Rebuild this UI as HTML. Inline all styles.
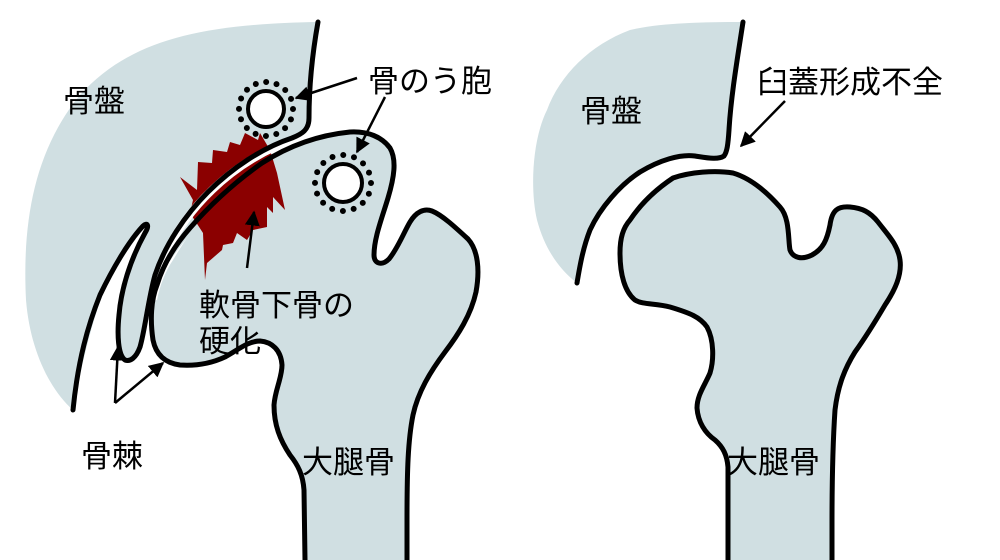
<!DOCTYPE html>
<html><head><meta charset="utf-8"><style>
html,body{margin:0;padding:0;background:#fff;}
svg{display:block}
text{font-family:"Liberation Sans","Noto Sans CJK JP",sans-serif;font-size:31px;fill:#000}
</style></head><body>
<svg width="1000" height="560" viewBox="0 0 1000 560" xmlns="http://www.w3.org/2000/svg">
<defs>
<marker id="ah" viewBox="0 0 10 10" refX="9" refY="5" markerWidth="6" markerHeight="6" orient="auto">
<path d="M0,0 L10,5 L0,10 z" fill="#000"/></marker>
</defs>
<!-- LEFT pelvis fill -->
<path d="M318,22 C315,50 309,80 309,118 C309,130 302,134 292,138 C260,150 225,175 200,223 C180,245 165,265 150,297 C145,320 140,345 133,357 C130,362 122,362 118,337 C118,310 125,270 147,228 C142,222 130,240 120,257 C105,280 88,330 73,410 C50,390 30,350 26,300 C22,220 35,150 80,95 C130,40 200,24 318,22 Z" fill="#d0dfe2"/>
<!-- LEFT femur fill -->
<path d="M305,560 L303,473 C298,465 285,445 278,425 C272,405 275,390 280,377 C284,360 282,350 273,345 C262,337 250,342 240,347 C225,355 210,365 193,365 C175,364 160,358 154,340 C150,320 152,300 157,300 C160,285 165,272 173,260 C185,240 195,225 213,207 C230,190 245,175 267,160 C285,148 300,140 317,137 C330,133 345,131 357,132 C372,134 380,138 388,145 C395,152 396,162 393,175 C389,195 382,215 377,227 C372,240 370,258 375,263 C380,266 385,264 390,258 C398,248 404,232 410,220 C415,212 422,209 430,210 C440,212 447,218 455,225 C465,232 473,240 477,255 C480,270 477,285 470,310 C462,330 452,345 440,360 C428,378 418,395 412,420 C408,440 407,470 407,523 L407,560 Z" fill="#d0dfe2"/>
<!-- red sclerosis -->
<polygon points="180,177 197,190 198,162 212,163 213,150 227,152 230,142 240,145 245,133 258,140 260,133 270,150 277,173 285,210 273,197 273,213 267,207 267,227 253,230 247,240 237,233 233,243 223,245 222,250 207,263 205,280 203,233 190,213 193,200" fill="#8b0000"/>
<!-- white gap -->
<path d="M300,137 C270,147 240,163 212,190 C189,212 169,240 157,275 C151,295 147,320 145,335" fill="none" stroke="#fff" stroke-width="8"/>
<!-- strokes left -->
<g fill="none" stroke="#000" stroke-width="5" stroke-linecap="round" stroke-linejoin="round">
<path d="M318,22 C313,50 309,80 309,118 C309,130 302,134 292,138 C262,148 232,168 208,192 C185,215 165,245 155,275 C148,300 145,330 140,347 C136,358 130,362 125,360 C118,355 117,335 119,315 C121,290 130,260 145,233 C150,225 147,222 143,226 C128,242 112,270 100,295 C88,325 78,360 73,410"/>
<path d="M305,560 L304,490 C303,475 298,465 290,455 C280,440 274,425 274,405 C275,390 282,378 282,365 C281,350 272,342 260,341 C248,341 238,350 225,357 C210,364 195,366 180,365 C165,363 156,355 153,340 C150,320 151,300 157,285 C163,265 175,245 190,228 C210,205 235,182 262,163 C290,145 320,135 350,132 C368,131 382,137 390,148 C397,160 394,178 388,198 C382,218 374,238 374,255 C374,264 382,266 389,259 C398,248 404,232 410,222 C416,212 424,208 432,211 C442,215 455,227 468,239 C478,250 480,270 476,292 C471,315 458,335 445,352 C430,372 418,392 413,415 C408,440 407,470 407,520 L407,560"/>
</g>
<!-- cysts -->
<circle cx="266" cy="109" r="27" fill="none" stroke="#000" stroke-width="6" stroke-dasharray="0 10.6" stroke-linecap="round"/>
<circle cx="266" cy="109" r="18" fill="#fff" stroke="#000" stroke-width="4"/>
<circle cx="343" cy="183" r="28" fill="none" stroke="#000" stroke-width="6" stroke-dasharray="0 11" stroke-linecap="round"/>
<circle cx="343" cy="183" r="19" fill="#fff" stroke="#000" stroke-width="4"/>
<!-- arrows left -->
<g stroke="#000" stroke-width="2.5" fill="none" marker-end="url(#ah)">
<line x1="357" y1="78" x2="296" y2="98"/>
<line x1="385" y1="97" x2="357" y2="152"/>
<line x1="247" y1="268" x2="254" y2="212"/>
<line x1="115" y1="403" x2="118" y2="347"/>
<line x1="115" y1="403" x2="163" y2="363"/>
</g>
<text x="63" y="112">骨盤</text>
<text x="368" y="92">骨のう胞</text>
<text x="199" y="316">軟骨下骨の</text>
<text x="199" y="352">硬化</text>
<text x="81" y="467">骨棘</text>
<text x="302" y="473">大腿骨</text>

<!-- RIGHT pelvis -->
<path d="M743,22 L730,100 L727,147 C726,157 722,158 712,158 C700,158 690,154 670,157 C650,162 628,180 610,200 C598,215 587,233 577,283 C560,270 545,250 537,220 C530,190 532,140 547,110 C560,75 590,45 630,30 C660,23 700,22 743,22 Z" fill="#d0dfe2"/>
<path d="M743,22 C738,55 731,95 729,130 C728,145 727,152 724,156 C718,160 708,158 695,156 C680,154 660,160 640,172 C620,185 600,208 590,230 C583,248 580,265 577,283" fill="none" stroke="#000" stroke-width="5" stroke-linecap="round"/>
<path d="M728,560 L728,467 C727,455 723,447 715,440 C705,433 698,422 697,408 C697,395 705,385 710,373 C714,360 714,340 707,327 C700,317 690,313 670,307 C655,303 643,305 635,300 C625,292 620,275 620,253 C620,238 623,228 630,220 C640,205 655,190 673,178 C690,172 715,170 733,173 C750,178 765,190 780,207 C790,218 788,240 790,250 C793,258 802,260 812,255 C823,249 827,240 830,225 C832,210 838,206 850,207 C862,208 870,212 878,222 C888,235 898,245 900,260 C902,275 895,290 885,305 C875,322 865,338 855,352 C845,368 838,385 835,410 C833,440 832,480 832,523 L832,560 Z" fill="#d0dfe2"/>
<path d="M728,560 L728,467 C727,455 723,447 715,440 C705,433 698,422 697,408 C697,395 705,385 710,373 C714,360 714,340 707,327 C700,317 690,313 670,307 C655,303 643,305 635,300 C625,292 620,275 620,253 C620,238 623,228 630,220 C640,205 655,190 673,178 C690,172 715,170 733,173 C750,178 765,190 780,207 C790,218 788,240 790,250 C793,258 802,260 812,255 C823,249 827,240 830,225 C832,210 838,206 850,207 C862,208 870,212 878,222 C888,235 898,245 900,260 C902,275 895,290 885,305 C875,322 865,338 855,352 C845,368 838,385 835,410 C833,440 832,480 832,523 L832,560" fill="none" stroke="#000" stroke-width="5" stroke-linejoin="round"/>
<line x1="785" y1="101" x2="741" y2="146" stroke="#000" stroke-width="2.5" marker-end="url(#ah)"/>
<text x="580" y="122">骨盤</text>
<text x="757" y="93">臼蓋形成不全</text>
<text x="727" y="473">大腿骨</text>
</svg>
</body></html>
